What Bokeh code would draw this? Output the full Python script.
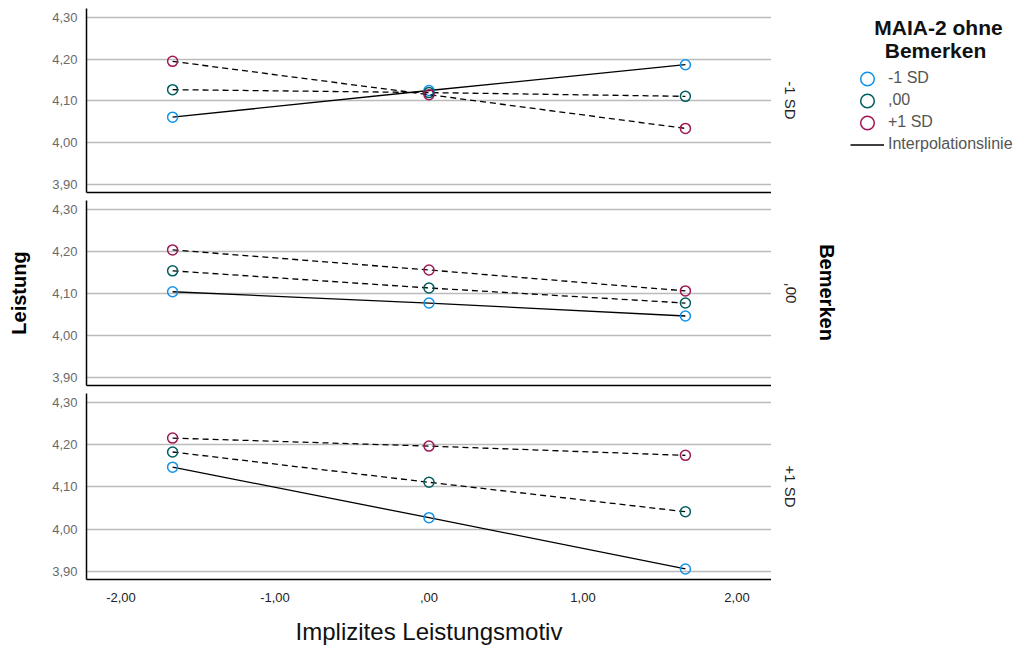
from math import pi
import numpy as np
from bokeh.plotting import figure
from bokeh.models import Range1d, FixedTicker, Label, Legend, LegendItem
from bokeh.layouts import column, row
from bokeh.embed import file_html
from bokeh.resources import INLINE

# ---------------- data ----------------
x_vals = [-1.665, 0.0, 1.665]                      # Implizites Leistungsmotiv (-1 SD, M, +1 SD)
x_ticks = [-2, -1, 0, 1, 2]
x_tick_labels = ["-2,00", "-1,00", ",00", "1,00", "2,00"]
y_ticks = [3.9, 4.0, 4.1, 4.2, 4.3]
y_tick_labels = ["3,90", "4,00", "4,10", "4,20", "4,30"]

panel_labels = ["-1 SD", ",00", "+1 SD"]           # Bemerken (facets)
series_labels = ["-1 SD", ",00", "+1 SD"]          # MAIA-2 ohne Bemerken

# Leistung, facet "Bemerken = -1 SD"
p1_maia_m1 = [4.061, 4.125, 4.187]
p1_maia_00 = [4.127, 4.120, 4.111]
p1_maia_p1 = [4.195, 4.115, 4.034]
# facet "Bemerken = ,00"
p2_maia_m1 = [4.104, 4.077, 4.046]
p2_maia_00 = [4.154, 4.113, 4.077]
p2_maia_p1 = [4.204, 4.156, 4.106]
# facet "Bemerken = +1 SD"
p3_maia_m1 = [4.147, 4.027, 3.905]
p3_maia_00 = [4.183, 4.111, 4.041]
p3_maia_p1 = [4.216, 4.197, 4.175]

panel_data = [
    [p1_maia_m1, p1_maia_00, p1_maia_p1],
    [p2_maia_m1, p2_maia_00, p2_maia_p1],
    [p3_maia_m1, p3_maia_00, p3_maia_p1],
]

# ---------------- style ----------------
FONT = "Liberation Sans"
series_colors = ["#1192e8", "#005d5d", "#9f1853"]
series_dash = ["solid", "6 4", "6 4"]
PW = 771                 # panel figure width (frame right edge at 771)
ML = 86
heights = [200, 193, 255]
tops = [8, 0, 0]
bottoms = [8, 8, 69]


def make_panel(i):
    p = figure(width=PW, height=heights[i],
               x_range=Range1d(-2.224, 2.224), y_range=Range1d(3.88, 4.322),
               output_backend="svg", toolbar_location=None, title_location=None,
               min_border_left=ML, min_border_right=0,
               min_border_top=tops[i], min_border_bottom=bottoms[i])
    p.outline_line_color = None
    p.xgrid.visible = False
    p.ygrid.ticker = FixedTicker(ticks=y_ticks)
    p.ygrid.grid_line_color = "#bbbbbb"
    p.ygrid.grid_line_width = 1.5

    ya = p.yaxis[0]
    ya.ticker = FixedTicker(ticks=y_ticks)
    ya.major_label_overrides = dict(zip(y_ticks, y_tick_labels))
    ya.major_tick_line_color = None
    ya.major_tick_out = 0
    ya.major_tick_in = 0
    ya.minor_tick_line_color = None
    ya.minor_tick_out = 0
    ya.axis_line_color = "black"
    ya.axis_line_width = 1.5
    ya.major_label_standoff = 9
    ya.major_label_text_font = FONT
    ya.major_label_text_font_size = "13px"
    ya.major_label_text_color = "#6a6a6a"

    xa = p.xaxis[0]
    xa.major_tick_line_color = None
    xa.major_tick_out = 0
    xa.major_tick_in = 0
    xa.minor_tick_line_color = None
    xa.minor_tick_out = 0
    xa.axis_line_color = "black"
    xa.axis_line_width = 1.5
    if i < 2:
        xa.ticker = FixedTicker(ticks=[])
        xa.major_label_standoff = 0
    else:
        xa.ticker = FixedTicker(ticks=x_ticks)
        xa.major_label_overrides = dict(zip(x_ticks, x_tick_labels))
        xa.major_label_text_font = FONT
        xa.major_label_text_font_size = "13px"
        xa.major_label_text_color = "#222222"
        xa.major_label_standoff = 13
        xa.axis_label = "Implizites Leistungsmotiv"
        xa.axis_label_text_font = FONT
        xa.axis_label_text_font_size = "24px"
        xa.axis_label_text_font_style = "normal"
        xa.axis_label_text_color = "#111111"
        xa.axis_label_standoff = 13

    if i == 1:
        ya.axis_label = "Leistung"
        ya.axis_label_text_font = FONT
        ya.axis_label_text_font_size = "20px"
        ya.axis_label_text_font_style = "bold"
        ya.axis_label_text_color = "black"
        ya.axis_label_standoff = 19

    for ys, col, dash in zip(panel_data[i], series_colors, series_dash):
        p.line(x_vals, ys, line_color="black", line_width=1.3, line_dash=dash)
        p.scatter(x_vals, ys, marker="circle", size=10, fill_color=None,
                  line_color=col, line_width=1.5)
    return p


figs = [make_panel(i) for i in range(3)]

# ---------------- right-hand strip: facet labels, facet title, legend ----------------
RW = 246
RH = sum(heights)
rt, rb = tops[0], bottoms[2]
r = figure(width=RW, height=RH, x_range=Range1d(0, 1), y_range=Range1d(0, 1),
           output_backend="svg", toolbar_location=None, title_location=None,
           x_axis_location=None, y_axis_location=None,
           min_border_left=0, min_border_right=0, min_border_top=rt, min_border_bottom=rb)
r.outline_line_color = None
r.xgrid.visible = False
r.ygrid.visible = False
frame_bottom = RH - rb          # page y of the strip's frame bottom
left0 = PW                       # page x of the strip's frame left


def sx(px):
    return px - left0


def sy(py):
    return frame_bottom - py


panel_centers = [(8 + 192) / 2, (200 + 385) / 2, (393 + 579) / 2]
for lab, cy in zip(panel_labels, panel_centers):
    r.add_layout(Label(x=sx(790), y=sy(cy), x_units="screen", y_units="screen",
                       text=lab, angle=-pi / 2, text_align="center",
                       text_baseline="middle", text_font=FONT, text_font_size="15px",
                       text_color="#222222"))
r.add_layout(Label(x=sx(826), y=sy(292), x_units="screen", y_units="screen",
                   text="Bemerken", angle=-pi / 2, text_align="center",
                   text_baseline="middle", text_font=FONT, text_font_size="20px",
                   text_font_style="bold", text_color="black"))
r.add_layout(Label(x=sx(938), y=sy(27), x_units="screen", y_units="screen",
                   text="MAIA-2 ohne", text_align="center", text_baseline="middle",
                   text_font=FONT, text_font_size="21px", text_font_style="bold",
                   text_color="#111111"))
r.add_layout(Label(x=sx(935), y=sy(50), x_units="screen", y_units="screen",
                   text="Bemerken", text_align="center", text_baseline="middle",
                   text_font=FONT, text_font_size="21px", text_font_style="bold",
                   text_color="#111111"))

nan_pt = np.array([np.nan])
leg_renderers = []
for col in series_colors:
    leg_renderers.append(r.scatter(x=nan_pt, y=nan_pt, marker="circle", size=14,
                                   fill_color=None, line_color=col, line_width=1.5))
leg_renderers.append(r.line(x=nan_pt, y=nan_pt, line_color="black", line_width=1.3))
leg_labels = series_labels + ["Interpolationslinie"]

# one single-item legend per row, so that the symbols can be large while rows stay 22px apart
GH = 35
row_centers = [78, 100, 122, 144]
for lab, rr, cy in zip(leg_labels, leg_renderers, row_centers):
    leg = Legend(items=[LegendItem(label=lab, renderers=[rr])],
                 location=(sx(850), sy(cy + GH / 2)), glyph_width=34, glyph_height=GH,
                 label_height=GH, spacing=0, padding=0, margin=0, label_standoff=4,
                 border_line_color=None, background_fill_alpha=0,
                 label_text_font=FONT, label_text_font_size="16px",
                 label_text_color="#555555")
    r.add_layout(leg)

layout = row(column(*figs, spacing=0), r, spacing=0)
open("out.html", "w").write(file_html(layout, INLINE))
